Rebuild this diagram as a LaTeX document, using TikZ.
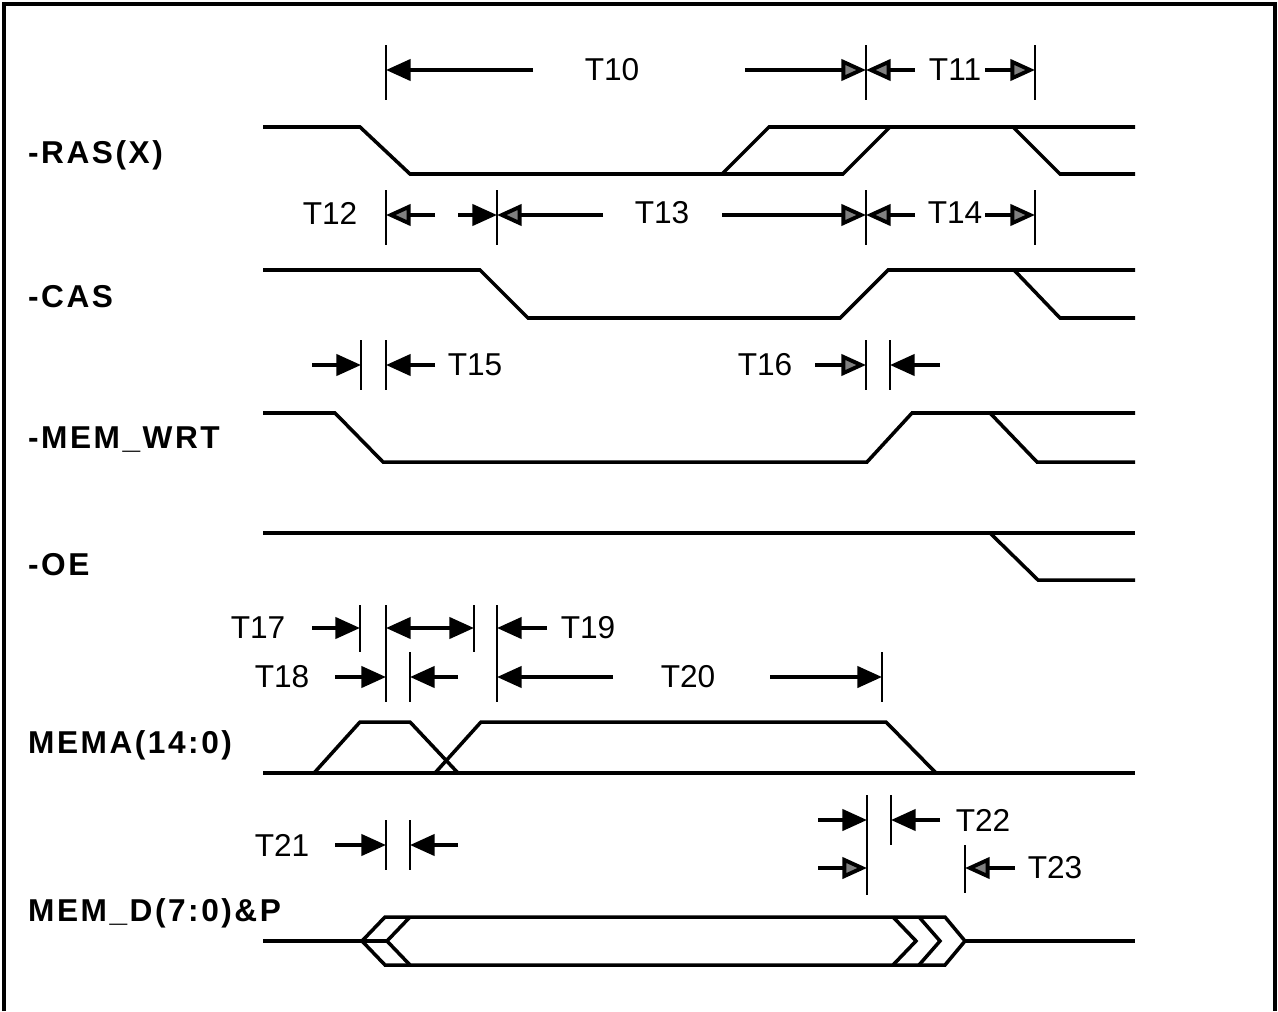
\documentclass[tikz,border=0pt]{standalone}
\usepackage{fontspec}
\setmainfont{Liberation Sans}
\usetikzlibrary{arrows.meta,calc}
\begin{document}
\begin{tikzpicture}[
	x=0.02cm, y=-0.02cm,
	wave/.style={line width=2pt, line join=miter},
	tickln/.style={line width=1.4pt},
	tarr/.style={line width=2.2pt, -{Triangle[length=14pt,width=12pt]}},
	garr/.style={line width=2.2pt, -{Triangle[length=14pt,width=12pt,fill=black!50]}},
	sig/.style={anchor=west, font=\fontsize{18}{20}\selectfont\bfseries\addfontfeatures{LetterSpace=8}},
	tlab/.style={font=\fontsize{18}{20}\selectfont},
	]
	\useasboundingbox (0,0) rectangle (1278,1011);
	% frame, open at the bottom
	\draw[line width=2.2pt] (4,1011) -- (4,4) -- (1275,4) -- (1275,1011);

	% signal names
	\node[sig] (ras) at (22,155) {-RAS(X)};
	\node[sig] (cas) at (22,297) {-CAS};
	\node[sig] (wrt) at (22,440) {-MEM\_WRT};
	\node[sig] (oe) at (22,565) {-OE};
	\node[sig] (mema) at (22,745) {MEMA(14:0)};
	\node[sig] (memd) at (22,913) {MEM\_D(7:0)\&P};

	% waveforms
	\draw[wave] (263,127) -- (360,127) -- (410,174) -- (843,174) -- (890,127) -- (1135,127);
	\draw[wave] (722,174) -- (769,127) -- (890,127);
	\draw[wave] (1013,127) -- (1060,174) -- (1135,174);
	\draw[wave] (263,270) -- (480,270) -- (528,318) -- (840,318) -- (888,270) -- (1135,270);
	\draw[wave] (1014,270) -- (1060,318) -- (1135,318);
	\draw[wave] (263,413) -- (335,413) -- (383,462) -- (867,462) -- (912,413) -- (1135,413);
	\draw[wave] (990,413) -- (1037,462) -- (1135,462);
	\draw[wave] (263,533) -- (1135,533);
	\draw[wave] (990,533) -- (1038,580) -- (1135,580);
	\draw[wave] (263,773) -- (1135,773);
	\draw[wave] (314,773) -- (360,722) -- (410,722) -- (458,773);
	\draw[wave] (435,773) -- (481,722) -- (886,722) -- (936,773);
	\draw[wave] (263,941) -- (362,941) -- (387,941);
	\draw[wave] (362,941) -- (385,917) -- (945,917) -- (965,941) -- (945,965) -- (385,965) -- cycle;
	\draw[wave] (410,917) -- (387,941) -- (410,965);
	\draw[wave] (893,917) -- (916,941) -- (893,965);
	\draw[wave] (919,917) -- (940,941) -- (919,965);
	\draw[wave] (965,941) -- (1135,941);

	% timing marks
	\foreach \x/\ya/\yb in {386/45/100, 866/45/100, 1035/45/100,
		386/190/245, 497/190/245, 866/190/245, 1035/190/245,
		361/340/390, 386/340/390, 866/340/390, 890/340/390,
		360/605/652, 386/605/702, 474/605/652, 497/605/702, 410/652/702, 882/652/702,
		386/820/870, 410/820/870, 867/795/895, 891/795/845, 965/845/893}
	\draw[tickln] (\x,\ya) -- (\x,\yb);
	\foreach \n/\x/\y in {a1/386/70, a2/866/70, a3/1035/70,
		b1/386/215, b2/497/215, b3/866/215, b4/1035/215,
		c1/361/365, c2/386/365, c3/866/365, c4/890/365,
		d1/360/628, d2/386/628, d3/474/628, d4/497/628,
		e1/386/677, e2/410/677, e3/497/677, e4/882/677,
		f1/386/845, f2/410/845, g1/867/820, g2/891/820, h1/867/868, h2/965/868}
	\coordinate (\n) at (\x,\y);

	% T10, T11
	\node[tlab] (t10) at (612,70) {T10};
	\node[tlab] (t11) at (955,70) {T11};
	\draw[tarr] ($(a1)+(147,0)$) -- (a1);
	\draw[garr] ($(a2)+(-121,0)$) -- (a2);
	\draw[garr] ($(a2)+(49,0)$) -- (a2);
	\draw[garr] ($(a3)+(-50,0)$) -- (a3);
	% T12, T13, T14
	\node[tlab] (t12) at (330,213) {T12};
	\node[tlab] (t13) at (662,213) {T13};
	\node[tlab] (t14) at (955,213) {T14};
	\draw[garr] ($(b1)+(49,0)$) -- (b1);
	\draw[tarr] ($(b2)+(-39,0)$) -- (b2);
	\draw[garr] ($(b2)+(106,0)$) -- (b2);
	\draw[garr] ($(b3)+(-144,0)$) -- (b3);
	\draw[garr] ($(b3)+(49,0)$) -- (b3);
	\draw[garr] ($(b4)+(-50,0)$) -- (b4);
	% T15, T16
	\node[tlab] (t15) at (475,365) {T15};
	\node[tlab] (t16) at (765,365) {T16};
	\draw[tarr] ($(c1)+(-49,0)$) -- (c1);
	\draw[tarr] ($(c2)+(49,0)$) -- (c2);
	\draw[garr] ($(c3)+(-51,0)$) -- (c3);
	\draw[tarr] ($(c4)+(50,0)$) -- (c4);
	% T17 .. T20
	\node[tlab] (t17) at (258,628) {T17};
	\node[tlab] (t19) at (588,628) {T19};
	\node[tlab] (t18) at (282,677) {T18};
	\node[tlab] (t20) at (688,677) {T20};
	\draw[tarr] ($(d1)+(-48,0)$) -- (d1);
	\draw[line width=2.2pt, {Triangle[length=14pt,width=12pt]}-{Triangle[length=14pt,width=12pt]}] (d2) -- (d3);
	\draw[tarr] ($(d4)+(50,0)$) -- (d4);
	\draw[tarr] ($(e1)+(-51,0)$) -- (e1);
	\draw[tarr] ($(e2)+(48,0)$) -- (e2);
	\draw[tarr] ($(e3)+(116,0)$) -- (e3);
	\draw[tarr] ($(e4)+(-112,0)$) -- (e4);
	% T21 .. T23
	\node[tlab] (t21) at (282,845) {T21};
	\node[tlab] (t22) at (983,820) {T22};
	\node[tlab] (t23) at (1055,868) {T23};
	\draw[tarr] ($(f1)+(-51,0)$) -- (f1);
	\draw[tarr] ($(f2)+(48,0)$) -- (f2);
	\draw[tarr] ($(g1)+(-49,0)$) -- (g1);
	\draw[tarr] ($(g2)+(49,0)$) -- (g2);
	\draw[garr] ($(h1)+(-49,0)$) -- (h1);
	\draw[garr] ($(h2)+(50,0)$) -- (h2);
\end{tikzpicture}
\end{document}
